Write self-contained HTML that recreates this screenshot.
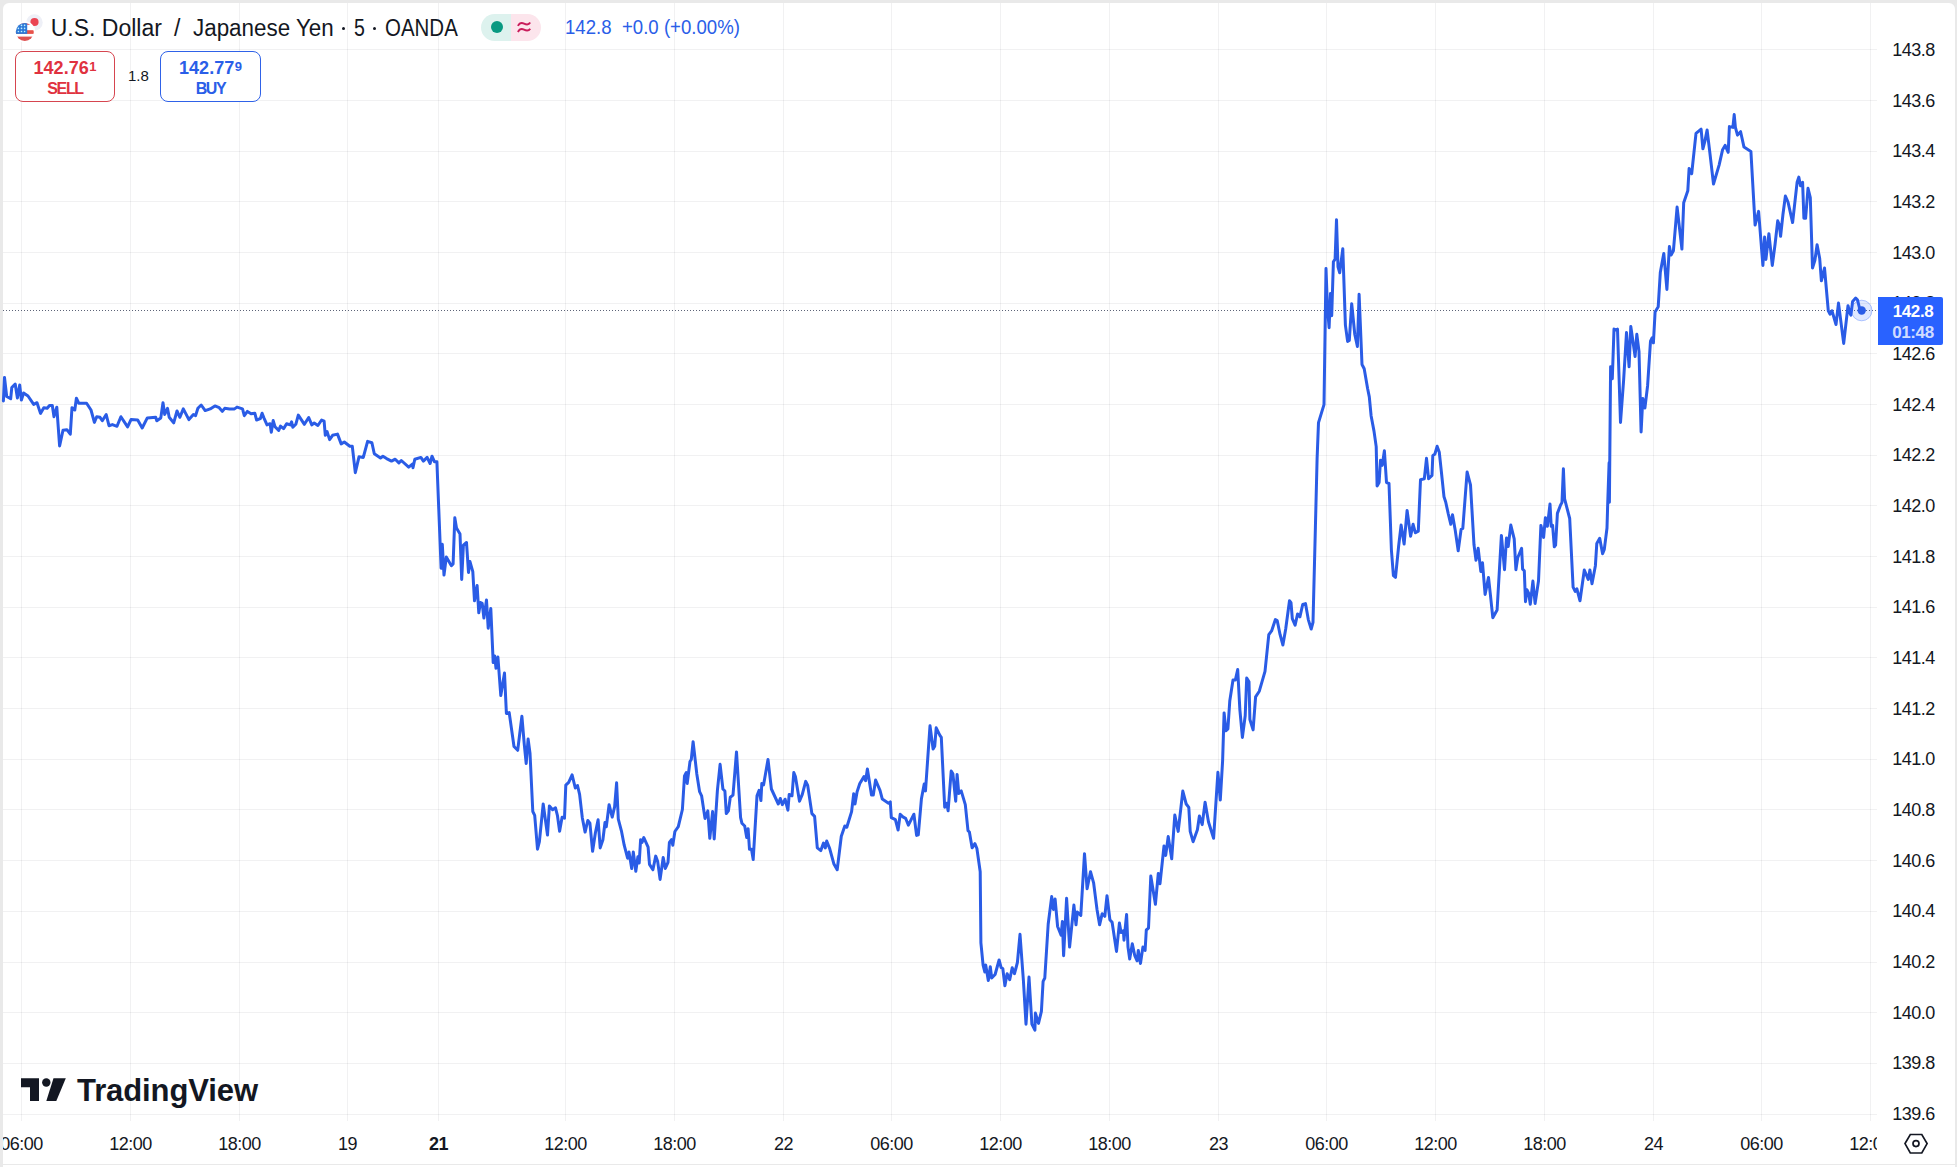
<!DOCTYPE html>
<html><head><meta charset="utf-8">
<style>
html,body{margin:0;padding:0;}
body{width:1957px;height:1167px;background:#e9e9e9;position:relative;overflow:hidden;font-family:"Liberation Sans",sans-serif;color:#131722;}
#panel{position:absolute;left:3px;top:3px;width:1952px;height:1161px;background:#fff;border-radius:6px 6px 0 0;overflow:hidden;}
#bottom{position:absolute;left:3px;top:1165px;width:1952px;height:2px;background:#fff;}
svg{position:absolute;left:0;top:0;}
.hdr{position:absolute;left:49px;top:15px;font-size:23px;white-space:nowrap;color:#131722;}
.hd{position:absolute;top:26.5px;width:3px;height:3px;border-radius:50%;background:#131722;}
.box{position:absolute;top:51px;height:51px;width:100px;border:1px solid;border-radius:8px;box-sizing:border-box;text-align:center;background:#fff;}
.sell{left:15px;border-color:#d6454f;color:#e0323f;}
.buy{left:160px;width:101px;border-color:#2f62e8;color:#2a5ee8;}
.pr{position:absolute;left:0;right:0;top:7px;font-size:18px;font-weight:bold;line-height:18px;}
.pr sup{font-size:13px;vertical-align:top;line-height:13px;position:relative;top:1px;margin-left:0.5px;font-weight:bold;}
.lb{position:absolute;left:0;right:0;top:28px;font-size:16px;line-height:18px;font-weight:bold;letter-spacing:-1.4px;}
.spread{position:absolute;left:128px;top:67px;font-size:15px;color:#131722;}
.pill{position:absolute;left:481px;top:14px;width:60px;height:27px;border-radius:14px;overflow:hidden;}
.pill .g{position:absolute;left:0;top:0;width:30px;height:27px;background:#ddf2ee;}
.pill .r{position:absolute;left:30px;top:0;width:30px;height:27px;background:#fce5ec;}
.pill .dot{position:absolute;left:10px;top:7px;width:12px;height:12px;border-radius:50%;background:#089981;}
.pill .ap{position:absolute;left:35px;top:1px;font-size:23px;color:#e0245e;}
.quote{position:absolute;left:565px;top:16px;font-size:20px;color:#2a5ee8;white-space:nowrap;transform-origin:0 0;transform:scaleX(0.93);}
.logotext{position:absolute;left:77px;top:1073px;font-size:31px;font-weight:bold;color:#131722;letter-spacing:-0.1px;}
</style></head>
<body>
<div id="panel"></div>
<div id="bottom"></div>
<svg width="1957" height="1167" viewBox="0 0 1957 1167">
  <g stroke="rgba(42,46,57,0.065)" stroke-width="1" shape-rendering="crispEdges"><line x1="3" y1="49.5" x2="1877" y2="49.5"/><line x1="3" y1="100.5" x2="1877" y2="100.5"/><line x1="3" y1="151.5" x2="1877" y2="151.5"/><line x1="3" y1="201.5" x2="1877" y2="201.5"/><line x1="3" y1="252.5" x2="1877" y2="252.5"/><line x1="3" y1="303.5" x2="1877" y2="303.5"/><line x1="3" y1="353.5" x2="1877" y2="353.5"/><line x1="3" y1="404.5" x2="1877" y2="404.5"/><line x1="3" y1="455.5" x2="1877" y2="455.5"/><line x1="3" y1="505.5" x2="1877" y2="505.5"/><line x1="3" y1="556.5" x2="1877" y2="556.5"/><line x1="3" y1="607.5" x2="1877" y2="607.5"/><line x1="3" y1="657.5" x2="1877" y2="657.5"/><line x1="3" y1="708.5" x2="1877" y2="708.5"/><line x1="3" y1="759.5" x2="1877" y2="759.5"/><line x1="3" y1="809.5" x2="1877" y2="809.5"/><line x1="3" y1="860.5" x2="1877" y2="860.5"/><line x1="3" y1="911.5" x2="1877" y2="911.5"/><line x1="3" y1="962.5" x2="1877" y2="962.5"/><line x1="3" y1="1012.5" x2="1877" y2="1012.5"/><line x1="3" y1="1063.5" x2="1877" y2="1063.5"/><line x1="3" y1="1114.5" x2="1877" y2="1114.5"/><line x1="21.5" y1="3" x2="21.5" y2="1121"/><line x1="130.5" y1="3" x2="130.5" y2="1121"/><line x1="239.5" y1="3" x2="239.5" y2="1121"/><line x1="347.5" y1="3" x2="347.5" y2="1121"/><line x1="438.5" y1="3" x2="438.5" y2="1121"/><line x1="565.5" y1="3" x2="565.5" y2="1121"/><line x1="674.5" y1="3" x2="674.5" y2="1121"/><line x1="783.5" y1="3" x2="783.5" y2="1121"/><line x1="891.5" y1="3" x2="891.5" y2="1121"/><line x1="1000.5" y1="3" x2="1000.5" y2="1121"/><line x1="1109.5" y1="3" x2="1109.5" y2="1121"/><line x1="1218.5" y1="3" x2="1218.5" y2="1121"/><line x1="1326.5" y1="3" x2="1326.5" y2="1121"/><line x1="1435.5" y1="3" x2="1435.5" y2="1121"/><line x1="1544.5" y1="3" x2="1544.5" y2="1121"/><line x1="1653.5" y1="3" x2="1653.5" y2="1121"/><line x1="1761.5" y1="3" x2="1761.5" y2="1121"/><line x1="1870.5" y1="3" x2="1870.5" y2="1121"/></g>
  <line x1="3" y1="310.5" x2="1877" y2="310.5" stroke="#5d6478" stroke-width="1" stroke-dasharray="1,2" shape-rendering="crispEdges"/>
  <path d="M3.4,401 L4.5,377.4 L6.7,396.5 L10.7,398.7 L11.8,387.5 L15.2,384 L17.4,398 L19.7,385 L21.4,400 L23.6,393 L28,396 L33.7,404.4 L37,402.7 L40.5,413.4 L43.8,407.7 L47.2,408.3 L49.5,405.5 L52.3,405.5 L54,416.7 L56.8,407.2 L59.6,446 L63,430.2 L66.9,429.7 L70.3,434.2 L72,407.7 L74.8,410 L76.4,398.2 L78.7,403.2 L86.6,403.2 L91,410 L94.4,422.4 L96.7,416.7 L100,417.3 L102.3,420.7 L106.2,414.5 L109,425.7 L112.4,424.6 L117,426.3 L120.9,416.7 L127.6,426.9 L131,419.6 L137.7,420 L142.2,428 L147.3,417.9 L155.7,417.3 L156.8,420.7 L160.8,417.9 L163,402.7 L164.7,414.5 L167.5,408.3 L169.2,417.3 L173.7,422.9 L177,411 L179.9,417.3 L183.3,408.9 L188.9,419.6 L193.4,414.5 L195.6,415.6 L197.9,408.3 L201.2,405 L205.2,410.6 L210.2,408.9 L214.9,405.9 L219.2,407.7 L222.3,411.4 L224.7,408.3 L229.6,408.9 L234.5,408.9 L237,407.1 L242.5,408.9 L244.3,415.7 L247.4,411.4 L251.1,413.8 L254.8,413.2 L256.6,420 L260.3,418.7 L262.1,413.2 L264,418.1 L267,424.9 L270.1,423.7 L271.3,432.2 L273.2,420.6 L275,426.7 L278.7,430.4 L280.5,426.1 L283.6,428.6 L286.6,423.7 L290.3,424.9 L291.6,421.8 L292.8,427.3 L295.8,424.3 L298.3,415.1 L304.4,424.3 L308.7,417.5 L311.8,424.9 L314.2,423 L317.9,425.5 L321.6,420 L324.1,421.2 L325.3,435.3 L327.1,431.6 L329.6,439.6 L332.6,435.3 L337.5,434.1 L341.2,443.9 L344.3,442 L349.8,446.3 L352.3,446.3 L355.3,472.7 L359,456.8 L363.3,457.4 L367.6,441.4 L371.9,442.7 L374.3,453.7 L380.5,458 L382.9,456.2 L386.6,458.6 L391.5,461.1 L395.2,459.2 L398.9,462.9 L401.3,460.5 L408.7,467.2 L412.4,464.1 L413,467.8 L414.8,459.2 L420.9,457.4 L423.4,461.1 L427.1,457.4 L430.1,463.5 L432,456.2 L434.4,461.7 L436.9,461.7 L441.1,568.3 L442.3,544.3 L444,575.1 L446.3,557.1 L451.4,565.7 L453.1,564 L454.8,517.7 L456.5,528 L460,534 L461.7,579.4 L463.4,545.1 L466.5,542.5 L468.5,572.5 L469.9,561.4 L472.8,571.7 L474.5,600.8 L477.1,585.4 L478.8,612.8 L480.5,602.5 L482.2,603.4 L483.9,618 L486.5,600 L488.2,628.2 L490.8,608.5 L493.2,662.6 L494.7,656 L496,668.3 L497.9,657 L500.8,695.6 L504.5,673 L506.4,713.5 L509.2,712.6 L514,746.5 L517.7,750.3 L521.9,716.3 L524.3,744.6 L526.2,763.5 L528.1,739 L530,753.1 L532.8,811.5 L534.7,815.3 L537.5,849.2 L539.4,841.7 L543.2,804 L547.5,835.1 L549.4,805.9 L552.6,809.7 L555.5,807.8 L557.4,815.3 L559.6,831.3 L562.1,817.2 L564.5,818.1 L565.8,785.1 L568.7,782.3 L572.1,774.8 L575.3,788 L577.5,785.5 L579.6,794.4 L582.3,817.7 L585.1,832.1 L587.8,820.5 L589.9,823.2 L592.6,851.3 L595.4,832.8 L598.1,819.8 L600.2,847.9 L602.9,839.7 L605,822.5 L606.3,826.7 L609.1,804.7 L612.2,817.1 L614.6,806.8 L616.6,782.8 L618.3,819.1 L621.4,830.8 L624.2,845.2 L627.6,858.2 L629,852 L631.7,868.5 L633.3,852 L635.8,871.2 L637.9,856.8 L639.2,863 L640.6,839.7 L642,842.4 L643.8,837.6 L648.1,847.2 L649.5,864.4 L652.9,869.8 L655.7,856.1 L657.7,861.6 L660.1,879.4 L663.2,857.5 L665.3,868.5 L668,862.3 L669.4,842.4 L671.5,839.7 L672.8,845.2 L674.9,831.5 L678.3,826.7 L682.4,809.5 L684.5,775.9 L686.3,772.5 L687.2,783.5 L690,761.5 L691.3,759.5 L693.1,741.7 L696.8,773.9 L699.6,791.7 L701.6,795.8 L705,818.4 L707.8,810.9 L709.8,838.3 L712.6,811.6 L714.2,839 L717.4,790.3 L720.1,764.3 L722.9,789 L724.9,791 L726.3,813.6 L728.4,810.9 L730.3,797.2 L733,795.1 L736.5,751.9 L740.6,817.7 L741.9,823.2 L744.7,826 L746.7,837.6 L748.1,828.7 L749.5,849.3 L751.5,849.3 L753.2,859.6 L757,795.8 L759.1,790.3 L760.9,800.6 L761.8,783.5 L763.6,784.8 L768,759.5 L771.4,789 L778.3,804 L780.3,798.5 L782.4,804.7 L785.1,799.2 L787.9,810.2 L789.2,794.4 L792,795.8 L793.8,772.5 L795.4,776.6 L799.5,801.3 L802.3,794.4 L805.7,781.4 L807.7,785.5 L811.9,813.6 L814.6,816.4 L817.3,847.9 L820.8,850.6 L823.5,843.1 L825.3,847.9 L826.7,841 L829.7,848.6 L833.8,863.7 L837.2,869.8 L841.3,836.3 L844.8,826 L846.8,827.3 L851.6,811.6 L853.7,793.8 L855,804 L857.1,791.7 L859.8,783.5 L864,776.6 L865.6,780.7 L867.4,769.1 L871.5,795.1 L873.3,795.1 L875.6,780 L880,790.3 L882.3,799.1 L888.5,803.2 L890.3,801.9 L891.3,817.6 L895.4,819.7 L898.1,830 L900.2,814.2 L902.9,816.9 L905.6,818.3 L908.4,825.2 L913.9,814.2 L916.6,835.4 L918.3,834.8 L921.4,799.1 L924.2,784 L925.5,790.9 L930,725.8 L933.1,749.1 L934.7,746.3 L936.2,727.8 L939.9,735.4 L941.3,737.4 L944.7,807.3 L946.8,803.2 L948.1,810.8 L951.2,771 L952.9,773.8 L955.7,801.2 L957.1,774.4 L958.8,793.6 L961.2,790.9 L965.3,804.6 L968,830.6 L969.4,832 L972.1,847.8 L974.9,843.7 L976.9,848.5 L980.2,871.7 L980.9,942.8 L983.1,965.1 L984.8,972 L985.7,965.1 L988.3,980.5 L990.3,966.8 L991.7,978 L995.1,974.5 L999.1,960 L1001.1,967.7 L1002.8,968.5 L1004.9,985.7 L1007.1,973.7 L1009.7,979.7 L1012.2,967.7 L1014.5,973.7 L1017.4,962.5 L1020,934.3 L1023.4,980.5 L1026,1024.2 L1029,977.1 L1031.9,1024.2 L1034.9,1030.2 L1035.4,1013.1 L1038.5,1023.4 L1041.4,1011.4 L1043.1,981.4 L1044.8,978 L1048.2,924 L1051.7,896.6 L1053.4,909.4 L1055.1,899.1 L1057.6,926.5 L1061.1,935.1 L1062.4,921.4 L1063.6,955.7 L1066.6,898.3 L1069.6,947.1 L1073.9,905.1 L1076,924.8 L1077.3,912 L1080.8,915.4 L1084.5,853.7 L1087.1,888.8 L1090.5,871.7 L1093.6,882.8 L1097,909.4 L1099.6,924.8 L1102.2,913.7 L1104.8,916.3 L1107,895.7 L1109.9,919.7 L1112.1,922.2 L1116.5,951.4 L1119.4,923.1 L1121.1,932.5 L1123.4,930.8 L1124,940.2 L1126.6,914.5 L1128,947.1 L1129.7,959.1 L1132.3,943.7 L1134.8,955.7 L1137.1,960.8 L1138.3,950.5 L1140.5,963.4 L1142.9,947.1 L1145.1,950.5 L1146.3,930 L1148.5,928.2 L1150.8,876 L1155.4,904.3 L1158.3,873.4 L1160,883.7 L1164,846 L1165.7,855.4 L1168.2,836.6 L1171.7,858.8 L1174.8,815.1 L1178.2,831.4 L1182.8,791.1 L1186.2,804 L1188.8,807.4 L1190.2,831.4 L1193.1,841.7 L1197.4,829.7 L1199.4,816 L1202.2,824.6 L1205.1,802.3 L1208.5,822 L1213.6,838.3 L1217.9,772.3 L1220.3,800 L1222.6,761 L1224.1,712.9 L1226,730.8 L1227.9,728.9 L1229.8,700.7 L1233,679.9 L1235.4,679.9 L1237.7,669.5 L1239.9,710.1 L1242.4,737.4 L1245.2,715.7 L1246.7,678 L1249,681.8 L1249.9,719.5 L1253.1,729.9 L1255.6,696.9 L1259.3,691.2 L1265,671.4 L1268.8,634.7 L1271.6,630.9 L1275.4,619.6 L1277.2,620.5 L1280.1,634.7 L1282.9,645 L1285.7,629 L1289.5,600.7 L1291,602.6 L1292.3,618.6 L1295.1,625.2 L1297.6,613.9 L1299.9,616.8 L1302.7,604.5 L1305.5,603.6 L1308.3,619.6 L1311.2,629 L1313,622.4 L1315.4,527.1 L1317.1,458.6 L1318.5,422.6 L1324,404.6 L1326,268.6 L1327.4,306.3 L1329.1,327.7 L1330.5,293.4 L1331.7,315.7 L1333.4,261.7 L1335.1,259.1 L1336.5,219.7 L1338,266.8 L1339.7,272.8 L1342.8,248.8 L1345.4,325.1 L1347.6,341.4 L1349.3,340.5 L1351.7,303.7 L1354.8,334.5 L1357.4,346.5 L1359.1,294.3 L1362,364.5 L1364.2,368.8 L1367.6,388.5 L1369.3,396.9 L1371.1,415.7 L1374,431.1 L1376.2,446.6 L1377.1,486 L1379.1,482.5 L1380.5,460.3 L1382.2,465.4 L1384.4,450.8 L1386.5,482.5 L1389,483.4 L1391.4,550 L1393.4,575.7 L1395.5,577.4 L1398.6,546.5 L1401.1,525.1 L1404.1,544 L1407.1,510.5 L1410.6,536.3 L1413.1,524.3 L1415.4,532.8 L1418.3,531.1 L1420.5,479.7 L1424.3,478.8 L1426.5,458.3 L1428.6,478.8 L1432,475.4 L1432.8,455.7 L1434.9,454 L1437.1,446.3 L1439.3,452.3 L1441.4,472 L1444,496.8 L1445.7,502 L1448.3,514 L1450.8,524.3 L1452.5,514.8 L1455.1,529.4 L1458.2,550.8 L1461.1,529.4 L1462.8,528.5 L1467.1,472 L1470.5,484.8 L1474,544.8 L1476,560.2 L1478.2,548.3 L1480.8,571.4 L1482.5,562.8 L1485.1,594.5 L1488.5,577.4 L1490.2,592.8 L1492.8,617.7 L1497.1,610 L1501.4,535.4 L1504.5,569.7 L1506.5,538 L1508.2,546.5 L1510.8,525.1 L1514.2,538.8 L1515.9,569.7 L1517.7,557.7 L1521.6,548.3 L1522.6,569.1 L1524.3,570.8 L1525.5,601.7 L1526.9,589.7 L1528.6,593.1 L1530.3,604.2 L1532.9,581.1 L1535.1,603.4 L1538.5,581.1 L1540.9,525.4 L1543.6,537.4 L1545.4,517.7 L1547.4,526.3 L1550,504 L1551.2,526.3 L1552.6,525.4 L1554.3,546.8 L1555.6,545.1 L1557.4,513.4 L1560.3,505.7 L1562,502.3 L1563.4,468.8 L1564.6,498.8 L1569.7,518.5 L1573.1,587.1 L1575.2,591.4 L1576.9,588.8 L1580,600.8 L1584.3,570 L1588.2,579.4 L1589.9,570 L1592,583.7 L1595.4,565.7 L1596.8,543.4 L1599.7,538.3 L1602.6,553.7 L1604.3,549.4 L1607,528 L1607.7,504 L1609.1,462.8 L1609.4,502.3 L1610.6,366.8 L1612.3,378.8 L1614,329.1 L1616.3,330 L1617.5,329.1 L1620.5,422.5 L1623.6,380.5 L1626.5,332.5 L1629.1,366.8 L1630.8,326.5 L1633.4,344.5 L1635.1,356.5 L1636.8,334.3 L1639,351.4 L1641.1,431.9 L1642.8,398.5 L1644.9,408 L1647.6,385.7 L1650.5,341.1 L1652.2,337.7 L1653.4,342.8 L1655.1,312 L1658.2,306.8 L1660.3,272.6 L1663.8,253.4 L1666.9,289.4 L1669.4,246.5 L1671.1,255.1 L1673.4,250.8 L1677.1,207.1 L1681.9,249.1 L1683.7,202.8 L1687.8,190.8 L1689.1,168.6 L1691.7,173.7 L1696,133.4 L1701.1,129.1 L1702.9,148.8 L1704.9,141.1 L1707.1,130 L1709.7,151.4 L1713.5,184 L1719.1,165.1 L1722.6,149.7 L1725.1,145.4 L1728.2,152.3 L1729.4,126.6 L1732.9,127.4 L1734.2,114.6 L1735.4,127.4 L1737.5,135.1 L1740.6,131.7 L1744,147.1 L1750.9,151.4 L1755.1,225.1 L1758.6,211.4 L1762.9,265.4 L1764.6,237.1 L1765.9,259.4 L1768.9,233.7 L1772.3,265.4 L1775.1,244 L1777.7,220.8 L1779.4,225.1 L1780.6,236.3 L1782.9,214.8 L1785.4,196 L1788,202 L1792.6,222.6 L1797.1,182.3 L1798.8,177.1 L1800.5,185.7 L1802.6,182.3 L1803.9,218.3 L1805.6,218.3 L1808,188.3 L1810.3,197.7 L1812.5,268 L1814.9,260.3 L1817.1,244.8 L1819.7,258.5 L1821.4,280.8 L1824.5,268 L1828.3,310.8 L1830,314.2 L1832,310.8 L1836,324.5 L1838.5,303.1 L1843.7,343.4 L1848,305.7 L1849.7,312.5 L1850.9,315.1 L1852.6,301.4 L1855.7,298 L1857.4,299.7 L1860,310 L1861.7,310.5" fill="none" stroke="#2a5ce6" stroke-width="3" stroke-linejoin="round" stroke-linecap="round"/>
  <circle cx="1861.7" cy="310.5" r="10.3" fill="rgba(41,98,255,0.15)" stroke="rgba(41,98,255,0.35)" stroke-width="1"/>
  <circle cx="1861.7" cy="310.5" r="4.2" fill="#2a5ce6"/>
  <g font-family="Liberation Sans" font-size="18" letter-spacing="-0.5" fill="#131722" text-anchor="middle"><text x="1913.5" y="56.05">143.8</text><text x="1913.5" y="106.71">143.6</text><text x="1913.5" y="157.38">143.4</text><text x="1913.5" y="208.04">143.2</text><text x="1913.5" y="258.71">143.0</text><text x="1913.5" y="309.37">142.8</text><text x="1913.5" y="360.03">142.6</text><text x="1913.5" y="410.70">142.4</text><text x="1913.5" y="461.36">142.2</text><text x="1913.5" y="512.03">142.0</text><text x="1913.5" y="562.69">141.8</text><text x="1913.5" y="613.35">141.6</text><text x="1913.5" y="664.02">141.4</text><text x="1913.5" y="714.68">141.2</text><text x="1913.5" y="765.35">141.0</text><text x="1913.5" y="816.01">140.8</text><text x="1913.5" y="866.67">140.6</text><text x="1913.5" y="917.34">140.4</text><text x="1913.5" y="968.00">140.2</text><text x="1913.5" y="1018.67">140.0</text><text x="1913.5" y="1069.33">139.8</text><text x="1913.5" y="1119.99">139.6</text></g>
  <svg x="3" y="1125" width="1874" height="39" overflow="hidden"><g font-family="Liberation Sans" font-size="18" letter-spacing="-0.5" fill="#131722" text-anchor="middle" transform="translate(-3,-1125)"><text x="21.5" y="1149.5">06:00</text><text x="130.5" y="1149.5">12:00</text><text x="239.5" y="1149.5">18:00</text><text x="347.5" y="1149.5">19</text><text x="438.5" y="1149.5" font-weight="bold">21</text><text x="565.5" y="1149.5">12:00</text><text x="674.5" y="1149.5">18:00</text><text x="783.5" y="1149.5">22</text><text x="891.5" y="1149.5">06:00</text><text x="1000.5" y="1149.5">12:00</text><text x="1109.5" y="1149.5">18:00</text><text x="1218.5" y="1149.5">23</text><text x="1326.5" y="1149.5">06:00</text><text x="1435.5" y="1149.5">12:00</text><text x="1544.5" y="1149.5">18:00</text><text x="1653.5" y="1149.5">24</text><text x="1761.5" y="1149.5">06:00</text><text x="1870.5" y="1149.5">12:00</text></g></svg>
  <path d="M1878,297 H1941 Q1943,297 1943,299 V343 Q1943,345 1941,345 H1878 Z" fill="#2962ff"/>
  <text x="1913" y="317" font-family="Liberation Sans" font-size="17" font-weight="bold" letter-spacing="-0.4" fill="#fff" text-anchor="middle">142.8</text>
  <text x="1913" y="338" font-family="Liberation Sans" font-size="17" font-weight="bold" letter-spacing="-0.4" fill="rgba(255,255,255,0.8)" text-anchor="middle">01:48</text>
  <g fill="none" stroke="#131722" stroke-width="1.7">
    <path d="M1910.3,1134.5 H1921.8 L1927.1,1143.6 L1921.8,1153 H1910.3 L1905,1143.6 Z"/>
    <circle cx="1916" cy="1143.6" r="3"/>
  </g>
  <!-- flags -->
  <defs><clipPath id="usc"><circle cx="24.8" cy="31.9" r="9"/></clipPath></defs>
  <circle cx="34.4" cy="22.5" r="8.3" fill="#eef0f7"/>
  <circle cx="34.5" cy="22" r="4.1" fill="#ea4453"/>
  <circle cx="24.8" cy="31.9" r="10.6" fill="#fff"/>
  <g clip-path="url(#usc)">
    <rect x="15" y="22" width="20" height="20" fill="#fff"/>
    <rect x="15" y="22" width="20" height="2.8" fill="#e0505a"/>
    <rect x="15" y="30.2" width="20" height="3.7" fill="#e8524a"/>
    <rect x="15" y="36.6" width="20" height="5" fill="#de5252"/>
    <rect x="15" y="22" width="12.2" height="11.9" fill="#2f7bd8"/>
    <g fill="#bfefff"><circle cx="18.4" cy="28.4" r="0.8"/><circle cx="21.5" cy="28.4" r="0.8"/><circle cx="24.6" cy="28.4" r="0.8"/>
    <circle cx="18.4" cy="31.5" r="0.8"/><circle cx="21.5" cy="31.5" r="0.8"/><circle cx="24.6" cy="31.5" r="0.8"/>
    <circle cx="21.5" cy="25.4" r="0.8"/><circle cx="24.6" cy="25.4" r="0.8"/></g>
  </g>
  <!-- logo -->
  <g fill="#131722" transform="translate(21,1078.3)">
    <path d="M0,0 H18 V22.7 H9 V9 H0 Z"/>
    <circle cx="25.3" cy="4.2" r="4.2"/>
    <path d="M32.5,0 H44.8 L35.3,22.7 H25.3 Z"/>
  </g>
</svg>
<div class="hdr" style="left:50.7px">U.S. Dollar</div>
<div class="hdr" style="left:174px">/</div>
<div class="hdr" style="left:192.6px;transform-origin:0 0;transform:scaleX(0.974)">Japanese Yen</div>
<div class="hd" style="left:342.2px"></div>
<div class="hdr" style="left:354px;transform-origin:0 0;transform:scaleX(0.85)">5</div>
<div class="hd" style="left:372.6px"></div>
<div class="hdr" style="left:384.5px;transform-origin:0 0;transform:scaleX(0.89)">OANDA</div>
<div class="pill"><div class="g"></div><div class="r"></div><div class="dot"></div></div>
<svg width="20" height="20" style="left:514px;top:17px" viewBox="514 17 20 20"><g fill="none" stroke="#c91c5b" stroke-width="1.9" stroke-linecap="butt"><path d="M517.9,25.9 C519.5,23 522,22.6 524,23.6 C526,24.6 528.5,25.4 530.2,22.6"/><path d="M517.9,32 C519.5,29.1 522,28.7 524,29.7 C526,30.7 528.5,31.5 530.2,28.7"/></g></svg>
<div class="quote">142.8</div><div class="quote" style="left:621.8px">+0.0 (+0.00%)</div>
<div class="box sell"><div class="pr">142.76<sup>1</sup></div><div class="lb">SELL</div></div>
<div class="spread">1.8</div>
<div class="box buy"><div class="pr">142.77<sup>9</sup></div><div class="lb">BUY</div></div>
<div class="logotext">TradingView</div>
</body></html>
